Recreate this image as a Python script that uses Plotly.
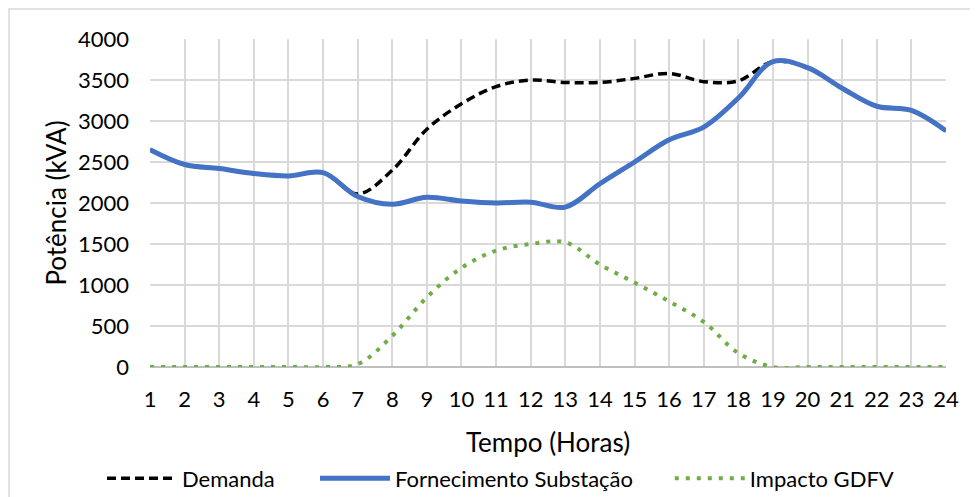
import plotly.graph_objects as go

# Dados (kVA por hora)
horas = list(range(1, 25))
demanda = [2650, 2470, 2420, 2360, 2330, 2370, 2110, 2400, 2900, 3210, 3420, 3500,
           3470, 3470, 3520, 3580, 3480, 3490, 3725, 3650, 3400, 3180, 3130, 2880]
fornecimento = [2650, 2470, 2420, 2360, 2330, 2370, 2080, 1985, 2070, 2025, 2000, 2010,
                1950, 2235, 2500, 2770, 2925, 3280, 3725, 3650, 3400, 3180, 3130, 2880]
impacto = [0, 0, 0, 0, 0, 0, 35, 380, 850, 1210, 1420, 1500,
           1520, 1250, 1030, 800, 550, 170, 0, 0, 0, 0, 0, 0]

FONTE = "Lato"
TAM = 22
GRID = "#d9d9d9"

fig = go.Figure()
fig.add_trace(go.Scatter(x=horas, y=demanda, name="Demanda", mode="lines", legend="legend",
                         line=dict(color="black", width=3.5, dash="9px,5px",
                                   shape="spline", smoothing=1)))
fig.add_trace(go.Scatter(x=horas, y=fornecimento, name="Fornecimento Substação", mode="lines",
                         legend="legend2",
                         line=dict(color="#4472C4", width=5, shape="spline", smoothing=1)))
fig.add_trace(go.Scatter(x=horas, y=impacto, name="Impacto GDFV", mode="lines", legend="legend3",
                         line=dict(color="#70AD47", width=4, dash="4px,7px",
                                   shape="spline", smoothing=1)))

# moldura da área do gráfico (estilo Excel)
fig.add_shape(type="rect", xref="paper", yref="paper",
              x0=-0.1771, x1=1.08, y0=-0.5, y1=1.0915,
              line=dict(color=GRID, width=1.5), layer="below")

leg = dict(orientation="h", y=-0.34, xref="paper", yref="paper",
           xanchor="left", yanchor="middle", itemwidth=70,
           font=dict(family=FONTE, size=TAM, color="black"),
           itemclick=False, bgcolor="rgba(0,0,0,0)")

fig.update_layout(
    width=978, height=497,
    margin=dict(l=142, r=40, t=31, b=138, autoexpand=False),
    paper_bgcolor="white", plot_bgcolor="white",
    font=dict(family=FONTE, size=TAM, color="black"),
    showlegend=True,
    legend=dict(leg, x=-0.0603),
    legend2=dict(leg, x=0.2073),
    legend3=dict(leg, x=0.653),
)
fig.update_xaxes(range=[1, 24], tickmode="linear", tick0=1, dtick=1, tickangle=0,
                 showgrid=True, gridcolor=GRID, gridwidth=1.5,
                 showline=False, zeroline=False, ticks="",
                 ticklabelstandoff=17, automargin=False,
                 title=dict(text="Tempo (Horas)", standoff=22))
fig.update_yaxes(range=[0, 4000], tickmode="linear", dtick=500,
                 showgrid=True, gridcolor=GRID, gridwidth=1.5,
                 zeroline=True, zerolinecolor="#bfbfbf", zerolinewidth=2,
                 showline=False, ticks="", ticklabelstandoff=20, automargin=False,
                 title=dict(text="Potência (kVA)", standoff=3))

fig.write_html("out.html")
